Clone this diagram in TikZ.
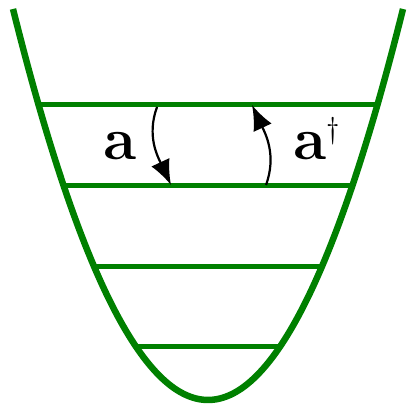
\documentclass[tikz,border=0pt]{standalone}
\usepackage{fix-cm}
\usetikzlibrary{arrows.meta}

\begin{document}
\begin{tikzpicture}[
x=1pt,y=1pt,
well/.style={draw=green!50!black,line width=6.5pt},
level/.style={draw=green!50!black,line width=5pt},
ladder/.style={-{Latex[length=25pt,width=20pt]},line width=2.2pt},
op/.style={font=\fontsize{60}{62}\selectfont,inner sep=0pt}
]
\useasboundingbox (0,0) rectangle (410,407);

% =======================
% POTENTIAL WELL
% =======================

\draw[well] (13,398) .. controls (143,-123.3) and (273,-123.3) .. (403,398);

% =======================
% ENERGY LEVELS
% =======================

\foreach \lv/\y in {1/60,2/140,3/221,4/302}{
  \pgfmathsetmacro{\hw}{195*sqrt((\y-7)/391)}
  \coordinate (lvl\lv-w) at ({208-\hw},\y);
  \coordinate (lvl\lv-e) at ({208+\hw},\y);
  \draw[level] (lvl\lv-w) -- (lvl\lv-e);
}

% =======================
% LADDER OPERATORS
% =======================

\coordinate (down-start) at (157,300);
\coordinate (down-end) at (171,222);
\coordinate (up-start) at (266,222);
\coordinate (up-end) at (252,302);

\draw[ladder] (down-start) to[out=250,in=115] (down-end);
\draw[ladder] (up-start) to[out=70,in=-65] (up-end);

\node[op,anchor=base] (ann) at (120,247) {$\mathbf{a}$};
\node[op,anchor=base west] (cre) at (293,247)
  {$\mathbf{a}^{\scriptscriptstyle\dagger}$};

\end{tikzpicture}
\end{document}
